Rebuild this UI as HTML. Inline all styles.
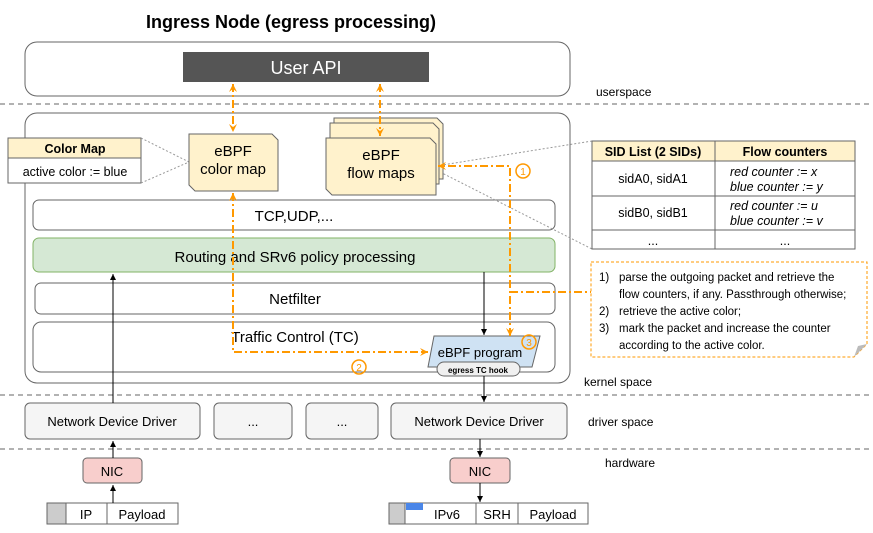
<!DOCTYPE html>
<html><head><meta charset="utf-8"><style>body{margin:0;background:#fff}svg{display:block}text{font-family:"Liberation Sans",sans-serif}</style></head><body>
<svg width="873" height="533" viewBox="0 0 873 533" xmlns="http://www.w3.org/2000/svg">
<defs>
<marker id="ao" markerWidth="10" markerHeight="10" refX="8" refY="5" orient="auto-start-reverse" markerUnits="userSpaceOnUse"><path d="M0,1 L8,5 L0,9 L3,5 Z" fill="#f90"/></marker>
<marker id="ab" markerWidth="8" markerHeight="8" refX="6" refY="4" orient="auto" markerUnits="userSpaceOnUse"><path d="M0,1 L6,4 L0,7 Z" fill="#000"/></marker>
</defs>
<text x="291" y="28" font-size="18" font-weight="bold" text-anchor="middle">Ingress Node (egress processing)</text>
<rect x="25" y="42" width="545" height="54" rx="12" fill="#fff" stroke="#666"/>
<rect x="183" y="52" width="246" height="30" fill="#555"/>
<text x="306" y="74" font-size="18" fill="#fff" text-anchor="middle">User API</text>
<g stroke="#666" stroke-dasharray="5,4"><line x1="0" y1="104" x2="873" y2="104"/><line x1="0" y1="395" x2="873" y2="395"/><line x1="0" y1="449" x2="873" y2="449"/></g>
<g font-size="12" fill="#000"><text x="596" y="96">userspace</text><text x="584" y="386">kernel space</text><text x="588" y="426">driver space</text><text x="605" y="467">hardware</text></g>
<rect x="25" y="113" width="545" height="270" rx="12" fill="#fff" stroke="#666"/>
<rect x="33" y="200" width="522" height="30" rx="6" fill="#fff" stroke="#666"/>
<text x="294" y="221" font-size="15" text-anchor="middle">TCP,UDP,...</text>
<rect x="33" y="238" width="522" height="34" rx="6" fill="#d5e8d4" stroke="#82b366"/>
<text x="295" y="262" font-size="15" text-anchor="middle">Routing and SRv6 policy processing</text>
<rect x="35" y="283" width="520" height="31" rx="6" fill="#fff" stroke="#666"/>
<text x="295" y="304" font-size="15" text-anchor="middle">Netfilter</text>
<rect x="33" y="322" width="522" height="50" rx="8" fill="#fff" stroke="#666"/>
<text x="295" y="342" font-size="15" text-anchor="middle">Traffic Control (TC)</text>
<rect x="8" y="138" width="133" height="45" fill="#fff" stroke="#666"/>
<rect x="8" y="138" width="133" height="20" fill="#fff2cc" stroke="#666"/>
<text x="75" y="153" font-size="12.5" font-weight="bold" text-anchor="middle">Color Map</text>
<text x="75" y="176" font-size="12.5" text-anchor="middle">active color := blue</text>
<g stroke="#999" stroke-dasharray="2,2" fill="none"><path d="M141,138 L189,162 L141,183"/><path d="M436,166 L592,141"/><path d="M440,172 L592,249"/></g>
<path d="M189,134 L272,134 L278,140 L278,191 L195,191 L189,185 Z" fill="#fff2cc" stroke="#666"/>
<text x="233" y="156" font-size="15" text-anchor="middle">eBPF</text><text x="233" y="174" font-size="15" text-anchor="middle">color map</text>
<path d="M334,118 L437,118 L443,124 L443,179 L334,179 Z" fill="#fff2cc" stroke="#666"/>
<path d="M330,123 L433,123 L439,129 L439,184 L330,184 Z" fill="#fff2cc" stroke="#666"/>
<path d="M326,138 L430,138 L436,144 L436,195 L332,195 L326,189 Z" fill="#fff2cc" stroke="#666"/>
<text x="381" y="160" font-size="15" text-anchor="middle">eBPF</text><text x="381" y="178" font-size="15" text-anchor="middle">flow maps</text>
<rect x="592" y="141" width="263" height="108" fill="#fff" stroke="#666"/>
<rect x="592" y="141" width="263" height="20" fill="#fff2cc" stroke="#666"/>
<g stroke="#666"><line x1="715" y1="141" x2="715" y2="249"/><line x1="592" y1="196" x2="855" y2="196"/><line x1="592" y1="230" x2="855" y2="230"/></g>
<g font-size="12.5"><text x="653" y="156" font-weight="bold" text-anchor="middle">SID List (2 SIDs)</text><text x="785" y="156" font-weight="bold" text-anchor="middle">Flow counters</text>
<text x="653" y="183" text-anchor="middle">sidA0, sidA1</text><text x="653" y="217" text-anchor="middle">sidB0, sidB1</text>
<text x="653" y="245" text-anchor="middle">...</text><text x="785" y="245" text-anchor="middle">...</text>
<g font-style="italic"><text x="730" y="176">red counter := x</text><text x="730" y="191">blue counter := y</text><text x="730" y="210">red counter := u</text><text x="730" y="225">blue counter := v</text></g></g>
<path d="M591,262 L867,262 L867,344 L854,357 L591,357 Z" fill="#fff" stroke="#f90" stroke-dasharray="3,2"/>
<path d="M854,357 L858,346 L867,344 Z" fill="#bbb"/>
<g font-size="11.5"><text x="599" y="281">1)</text><text x="619" y="281">parse the outgoing packet and retrieve the</text><text x="619" y="298">flow counters, if any. Passthrough otherwise;</text>
<text x="599" y="315">2)</text><text x="619" y="315">retrieve the active color;</text><text x="599" y="332">3)</text><text x="619" y="332">mark the packet and increase the counter</text><text x="619" y="349">according to the active color.</text></g>
<path d="M434,336 L540,336 L532,367 L428,367 Z" fill="#cfe2f3" stroke="#666"/>
<text x="480" y="357" font-size="13" text-anchor="middle">eBPF program</text>
<rect x="437" y="362" width="83" height="14" rx="7" fill="#f0f0f0" stroke="#666"/>
<text x="478" y="373" font-size="8" font-weight="bold" text-anchor="middle">egress TC hook</text>
<g stroke="#f90" stroke-width="2" stroke-dasharray="8,3,2,3" fill="none">
<line x1="233" y1="84" x2="233" y2="132" marker-start="url(#ao)" marker-end="url(#ao)"/>
<line x1="380" y1="84" x2="380" y2="136" marker-start="url(#ao)" marker-end="url(#ao)"/>
<path d="M233,193 L233,352 L428,352" marker-start="url(#ao)" marker-end="url(#ao)"/>
<path d="M510,336 L510,166 L438,166" marker-start="url(#ao)" marker-end="url(#ao)"/>
<line x1="510" y1="292" x2="591" y2="292"/>
</g>
<g fill="none" stroke="#f90" stroke-width="1.5"><circle cx="523" cy="171" r="7"/><circle cx="359" cy="367" r="7"/><circle cx="529" cy="342" r="7"/></g>
<g fill="#f90" font-size="10" text-anchor="middle"><text x="523" y="175">1</text><text x="359" y="371">2</text><text x="529" y="346">3</text></g>
<g fill="#f5f5f5" stroke="#666"><rect x="25" y="403" width="175" height="36" rx="5"/><rect x="214" y="403" width="78" height="36" rx="5"/><rect x="306" y="403" width="72" height="36" rx="5"/><rect x="391" y="403" width="176" height="36" rx="5"/></g>
<g font-size="13" text-anchor="middle"><text x="112" y="426">Network Device Driver</text><text x="253" y="426">...</text><text x="342" y="426">...</text><text x="479" y="426">Network Device Driver</text></g>
<g fill="#f8cecc" stroke="#666"><rect x="83" y="458" width="59" height="25" rx="4"/><rect x="450" y="458" width="60" height="25" rx="4"/></g>
<g font-size="13" text-anchor="middle"><text x="112" y="476">NIC</text><text x="480" y="476">NIC</text></g>
<g stroke="#666" fill="#fff"><rect x="47" y="503" width="19" height="21" fill="#ccc"/><rect x="66" y="503" width="41" height="21"/><rect x="107" y="503" width="71" height="21"/>
<rect x="389" y="503" width="16" height="21" fill="#ccc"/><rect x="405" y="503" width="71" height="21"/><rect x="476" y="503" width="42" height="21"/><rect x="518" y="503" width="70" height="21"/></g>
<rect x="406" y="503" width="17" height="7" fill="#4a86e8"/>
<g font-size="13" text-anchor="middle"><text x="86" y="519">IP</text><text x="142" y="519">Payload</text><text x="447" y="519">IPv6</text><text x="497" y="519">SRH</text><text x="553" y="519">Payload</text></g>
<g stroke="#000" marker-end="url(#ab)"><line x1="113" y1="403" x2="113" y2="274"/><line x1="484" y1="272" x2="484" y2="335"/><line x1="484" y1="376" x2="484" y2="402"/>
<line x1="113" y1="458" x2="113" y2="441"/><line x1="113" y1="503" x2="113" y2="485"/><line x1="480" y1="439" x2="480" y2="457"/><line x1="480" y1="483" x2="480" y2="502"/></g>
</svg>
</body></html>
